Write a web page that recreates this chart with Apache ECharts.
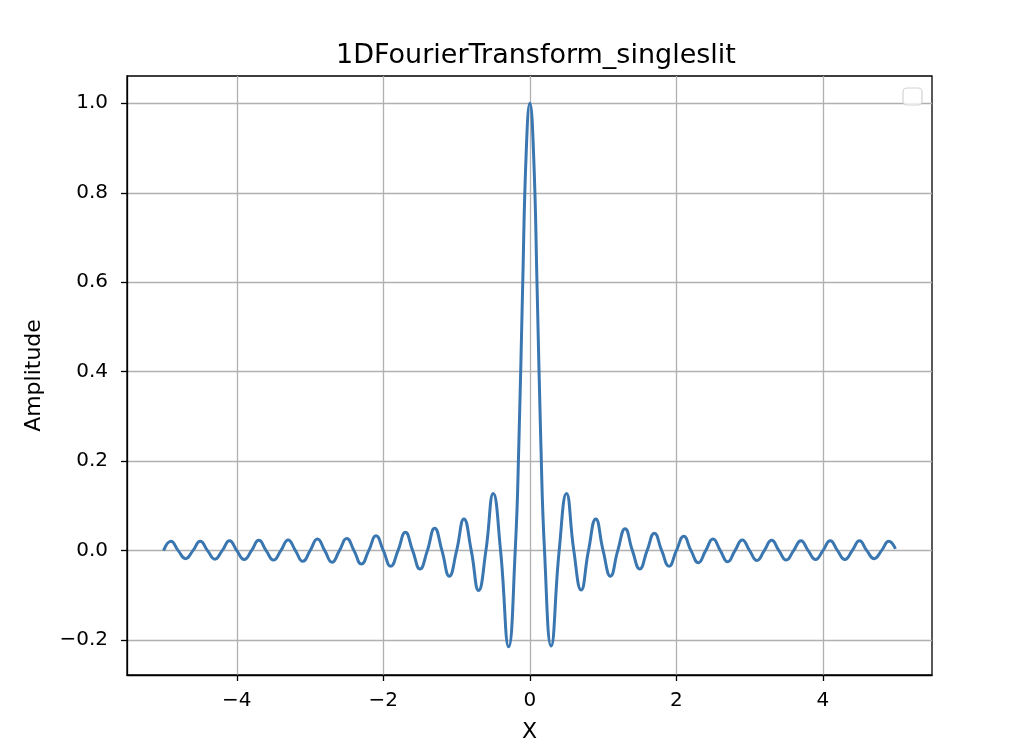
<!DOCTYPE html>
<html>
<head>
<meta charset="utf-8">
<script src="https://cdn.jsdelivr.net/npm/echarts@6/dist/echarts.min.js"></script>
<style>html,body{margin:0;padding:0;background:#fff;}#c{width:1024px;height:748px;}</style>
</head>
<body>
<div id="c"></div>
<script>
// Values (peaks, troughs and zero crossings)
var xValues = [
  -5.0, -4.9, -4.8, -4.7, -4.6, -4.5, -4.4, -4.3, -4.2, -4.1,
  -4.0, -3.9, -3.8, -3.7, -3.6, -3.5, -3.4, -3.3, -3.2, -3.1,
  -3.0, -2.9, -2.8, -2.7, -2.6, -2.5, -2.4, -2.3, -2.2, -2.1,
  -2.0, -1.9, -1.8, -1.7, -1.6, -1.5, -1.4, -1.3, -1.2, -1.1,
  -1.0, -0.9, -0.8, -0.7, -0.6, -0.5, -0.4, -0.29, -0.2, -0.15,
  -0.1, -0.05, 0.0, 0.05, 0.1, 0.15, 0.2, 0.29, 0.4, 0.5,
  0.6, 0.7, 0.8, 0.9, 1.0, 1.1, 1.2, 1.3, 1.4, 1.5,
  1.6, 1.7, 1.8, 1.9, 2.0, 2.1, 2.2, 2.3, 2.4, 2.5,
  2.6, 2.7, 2.8, 2.9, 3.0, 3.1, 3.2, 3.3, 3.4, 3.5,
  3.6, 3.7, 3.8, 3.9, 4.0, 4.1, 4.2, 4.3, 4.4, 4.5,
  4.6, 4.7, 4.8, 4.9, 4.99
];
var amplitude = [
  0.0, 0.021, 0.0, -0.018, 0.0, 0.021, 0.0, -0.019, 0.0, 0.022,
  0.0, -0.020, 0.0, 0.023, 0.0, -0.021, 0.0, 0.024, 0.0, -0.024,
  0.0, 0.026, 0.0, -0.026, 0.0, 0.027, 0.0, -0.030, 0.0, 0.033,
  0.0, -0.035, 0.0, 0.041, 0.0, -0.041, 0.0, 0.050, 0.0, -0.057,
  0.0, 0.071, 0.0, -0.089, 0.0, 0.128, 0.0, -0.215, 0.0, 0.24,
  0.58, 0.89, 1.0, 0.89, 0.58, 0.24, 0.0, -0.213, 0.0, 0.128,
  0.0, -0.088, 0.0, 0.071, 0.0, -0.057, 0.0, 0.049, 0.0, -0.041,
  0.0, 0.039, 0.0, -0.035, 0.0, 0.032, 0.0, -0.027, 0.0, 0.026,
  0.0, -0.025, 0.0, 0.024, 0.0, -0.022, 0.0, 0.023, 0.0, -0.021,
  0.0, 0.022, 0.0, -0.020, 0.0, 0.022, 0.0, -0.020, 0.0, 0.022,
  0.0, -0.018, 0.0, 0.021, 0.004
];
var xTicks = [-4, -2, 0, 2, 4];
var yTicks = [-0.2, 0.0, 0.2, 0.4, 0.6, 0.8, 1.0];
var titleText = '1DFourierTransform_singleslit';
var xName = 'X';
var yName = 'Amplitude';

var FONT = 'DejaVu Sans';
var chart = echarts.init(document.getElementById('c'), null, {renderer: 'canvas'});
function fmtMinus(s) { return String(s).replace('-', '\u2212'); }
var data = xValues.map(function (x, i) { return [x, amplitude[i]]; });

chart.setOption({
  animation: false,
  backgroundColor: '#fff',
  title: {
    text: titleText, left: 531, top: 37, textAlign: 'center',
    textStyle: {fontFamily: FONT, fontSize: 27, fontWeight: 'normal', color: '#000'}
  },
  grid: {left: 127, right: 92, top: 76, bottom: 72, show: true,
         borderColor: '#000', borderWidth: 1.3, backgroundColor: 'transparent'},
  xAxis: {
    type: 'value', min: -5.4995, max: 5.4895,
    name: xName, nameLocation: 'middle', nameGap: 46,
    nameTextStyle: {fontFamily: FONT, fontSize: 22, color: '#000'},
    axisLine: {show: true, onZero: false, lineStyle: {color: '#000', width: 1.3}},
    axisTick: {show: true, inside: false, length: 6, customValues: xTicks, lineStyle: {color: '#000', width: 1.3}},
    axisLabel: {show: true, customValues: xTicks, margin: 16, fontFamily: FONT, fontSize: 20, color: '#000',
      formatter: function (v) { return fmtMinus(v); }},
    splitLine: {show: true, lineStyle: {color: '#b0b0b0', width: 1.3}}
  },
  yAxis: {
    type: 'value', min: -0.278, max: 1.061,
    name: yName, nameLocation: 'middle', nameGap: 82, nameRotate: 90,
    nameTextStyle: {fontFamily: FONT, fontSize: 22, color: '#000'},
    axisLine: {show: true, onZero: false, lineStyle: {color: '#000', width: 1.3}},
    axisTick: {show: true, inside: false, length: 6, customValues: yTicks, lineStyle: {color: '#000', width: 1.3}},
    axisLabel: {show: true, customValues: yTicks, margin: 19, fontFamily: FONT, fontSize: 20, color: '#000',
      formatter: function (v) { return fmtMinus(v.toFixed(1)); }},
    splitLine: {show: true, lineStyle: {color: '#b0b0b0', width: 1.3}}
  },
  series: [{
    type: 'line', data: data, smooth: 0.5, showSymbol: false, symbol: 'none',
    lineStyle: {color: '#3a76b0', width: 3}, clip: true, z: 3
  }],
  graphic: [{
    type: 'rect', shape: {x: 903, y: 88, width: 19, height: 17, r: 4}, z: 100,
    style: {fill: 'rgba(255,255,255,0.8)', stroke: '#d3d3d3', lineWidth: 1.2}
  }]
});
</script>
</body>
</html>
